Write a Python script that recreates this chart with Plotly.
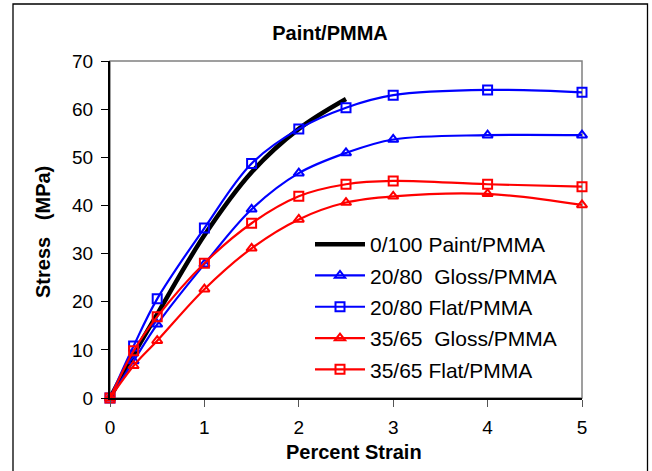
import plotly.graph_objects as go

strain = [0, 0.25, 0.5, 1, 1.5, 2, 2.5, 3, 4, 5]
strain_paint = [0, 0.25, 0.5, 1, 1.5, 2, 2.5]

paint_0_100 = [0, 9.0, 17.4, 33.8, 46.9, 55.9, 62.1]
gloss_20_80 = [0, 7.7, 15.3, 27.8, 39.2, 46.7, 50.9, 53.7, 54.6, 54.6]
flat_20_80 = [0, 10.8, 20.6, 35.3, 48.7, 55.9, 60.3, 62.9, 64.0, 63.5]
gloss_35_65 = [0, 6.7, 11.9, 22.6, 31.1, 37.1, 40.6, 41.9, 42.4, 40.1]
flat_35_65 = [0, 9.8, 16.9, 28.0, 36.3, 41.9, 44.4, 45.1, 44.4, 43.9]

names = ["0/100 Paint/PMMA", "20/80\u00a0\u00a0Gloss/PMMA", "20/80 Flat/PMMA",
         "35/65\u00a0\u00a0Gloss/PMMA", "35/65 Flat/PMMA"]

x_ticks = [0, 1, 2, 3, 4, 5]
y_ticks = [0, 10, 20, 30, 40, 50, 60, 70]

FONT = "Liberation Sans, Arial, sans-serif"
BLUE = "#0000FF"
RED = "#FF0000"

fig = go.Figure()

fig.add_trace(go.Scatter(x=strain_paint, y=paint_0_100, name=names[0], mode="lines",
                         line=dict(color="black", width=4.5, shape="spline", smoothing=1),
                         legendgroup="a", cliponaxis=False))

series = [
    (gloss_20_80, names[1], BLUE, "triangle-up-open", "b"),
    (flat_20_80, names[2], BLUE, "square-open", "c"),
    (gloss_35_65, names[3], RED, "triangle-up-open", "d"),
    (flat_35_65, names[4], RED, "square-open", "e"),
]
for ys, nm, col, sym, grp in series:
    fig.add_trace(go.Scatter(
        x=strain, y=ys, name=nm, mode="lines+markers",
        line=dict(color=col, width=2.2, shape="spline", smoothing=1),
        marker=dict(symbol=sym, size=9, color=col, line=dict(color=col, width=2)),
        legendgroup=grp, cliponaxis=False))

L, R, T, B = 110, 70, 61, 73
W, H = 652, 471
pw = W - L - R
ph = H - T - B

def px_x(p):
    return (p - L) / pw

def px_y(p):
    return (H - B - p) / ph

fig.update_layout(
    width=W, height=H,
    margin=dict(l=L, r=R, t=T, b=B),
    paper_bgcolor="white", plot_bgcolor="white",
    font=dict(family=FONT, size=19, color="black"),
    title=dict(text="<b>Paint/PMMA</b>", x=330 / W, xanchor="center",
               y=1 - 33 / H, yanchor="middle",
               font=dict(family=FONT, size=20, color="black")),
    showlegend=True,
    legend=dict(x=px_x(310), y=px_y(224), xanchor="left", yanchor="top",
                bgcolor="rgba(0,0,0,0)", borderwidth=0, itemwidth=50,
                font=dict(family=FONT, size=21, color="black"),
                traceorder="grouped", tracegroupgap=1),
    xaxis=dict(range=[0, 5], tickvals=x_ticks, ticktext=[str(v) for v in x_ticks],
               showgrid=False, zeroline=False, showline=True, linecolor="black",
               linewidth=2, ticks="outside", ticklen=7, tickcolor="#555", tickwidth=1,
               ticklabelstandoff=4,
               tickfont=dict(family=FONT, size=19, color="black")),
    yaxis=dict(range=[0, 70], tickvals=y_ticks, ticktext=[str(v) for v in y_ticks],
               showgrid=False, zeroline=False, showline=True, linecolor="black",
               linewidth=2, ticks="outside", ticklen=7, tickcolor="black", tickwidth=1,
               ticklabelstandoff=4,
               tickfont=dict(family=FONT, size=19, color="black")),
    annotations=[
        dict(text="<b>Percent Strain</b>", x=px_x(354), y=px_y(452), xref="paper", yref="paper",
             showarrow=False, xanchor="center", yanchor="middle",
             font=dict(family=FONT, size=20, color="black")),
        dict(text="<b>Stress\u00a0\u00a0\u00a0(MPa)</b>", x=px_x(43), y=px_y(232), xref="paper",
             yref="paper", showarrow=False, xanchor="center", yanchor="middle", textangle=-90,
             font=dict(family=FONT, size=20, color="black")),
    ],
    shapes=[
        dict(type="rect", xref="paper", yref="paper", x0=0, x1=1, y0=0, y1=1,
             line=dict(color="#808080", width=1.5), layer="below"),
        dict(type="rect", xref="paper", yref="paper", x0=px_x(13), x1=px_x(647.5),
             y0=px_y(473), y1=px_y(4), line=dict(color="black", width=1.3), layer="below"),
    ],
)

fig.write_html("out.html")
